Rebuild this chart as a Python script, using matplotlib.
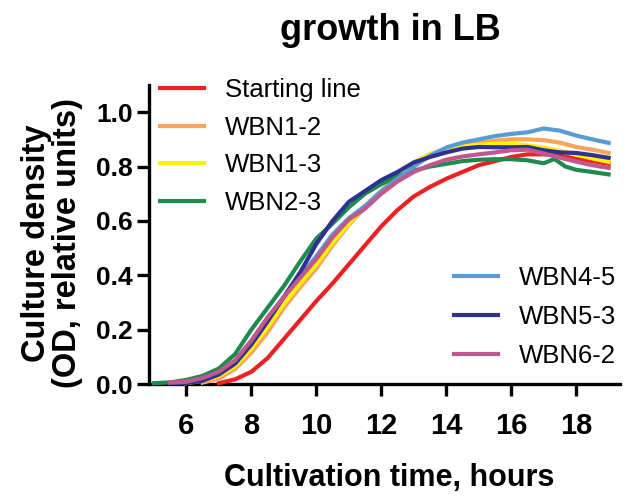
import numpy as np
import matplotlib
matplotlib.use("Agg")
import matplotlib.pyplot as plt

plt.rcParams['font.family'] = ['Liberation Sans', 'DejaVu Sans']

hours = [5.0, 5.5, 6.0, 6.5, 7.0, 7.5, 8.0, 8.5, 9.0, 9.5, 10.0, 10.5, 11.0, 11.5,
         12.0, 12.5, 13.0, 13.5, 14.0, 14.5, 15.0, 15.5, 16.0, 16.5, 17.0, 17.5,
         18.0, 18.5, 19.0]
nan = np.nan
starting_line = [nan, nan, nan, nan, 0.003, 0.017, 0.045, 0.095, 0.165, 0.235, 0.305,
                 0.37, 0.44, 0.51, 0.58, 0.64, 0.69, 0.725, 0.755, 0.78, 0.805, 0.82,
                 0.835, 0.845, 0.845, 0.84, 0.83, 0.82, 0.81]
wbn1_2 = [nan, nan, nan, 0.005, 0.02, 0.055, 0.115, 0.19, 0.28, 0.355, 0.425, 0.51,
          0.585, 0.65, 0.71, 0.77, 0.815, 0.845, 0.865, 0.876, 0.888, 0.895, 0.90,
          0.90, 0.897, 0.888, 0.872, 0.862, 0.85]
wbn1_3 = [nan, nan, 0.003, 0.012, 0.03, 0.065, 0.13, 0.21, 0.295, 0.37, 0.44, 0.52,
          0.59, 0.655, 0.71, 0.77, 0.815, 0.845, 0.865, 0.875, 0.88, 0.884, 0.884,
          0.878, 0.87, 0.858, 0.843, 0.83, 0.817]
hours_wbn2_3 = [5.0, 5.5, 6.0, 6.5, 7.0, 7.5, 8.0, 8.5, 9.0, 9.5, 10.0, 10.5, 11.0,
                11.5, 12.0, 12.5, 13.0, 13.5, 14.0, 14.5, 15.0, 15.5, 16.0, 16.5,
                17.0, 17.33, 17.67, 18.0, 18.5, 19.0]
wbn2_3 = [0.003, 0.006, 0.015, 0.03, 0.057, 0.11, 0.20, 0.28, 0.36, 0.45, 0.535, 0.59,
          0.65, 0.70, 0.735, 0.765, 0.785, 0.80, 0.81, 0.82, 0.825, 0.827, 0.827,
          0.823, 0.812, 0.828, 0.80, 0.788, 0.78, 0.771]
wbn4_5 = [nan, 0.005, 0.008, 0.02, 0.043, 0.085, 0.155, 0.24, 0.32, 0.395, 0.47, 0.55,
          0.61, 0.655, 0.71, 0.755, 0.80, 0.84, 0.87, 0.888, 0.90, 0.912, 0.92,
          0.926, 0.94, 0.932, 0.914, 0.90, 0.887]
wbn5_3 = [nan, 0.002, 0.003, 0.012, 0.035, 0.075, 0.145, 0.23, 0.32, 0.41, 0.515, 0.60,
          0.67, 0.71, 0.75, 0.78, 0.815, 0.835, 0.852, 0.866, 0.872, 0.871, 0.871,
          0.872, 0.86, 0.852, 0.85, 0.842, 0.832]
wbn6_2 = [nan, 0.005, 0.008, 0.022, 0.045, 0.087, 0.16, 0.245, 0.32, 0.39, 0.46, 0.54,
          0.605, 0.645, 0.70, 0.745, 0.78, 0.805, 0.825, 0.837, 0.845, 0.852, 0.86,
          0.862, 0.848, 0.833, 0.818, 0.805, 0.795]

labels = ['Starting line', 'WBN1-2', 'WBN1-3', 'WBN2-3', 'WBN4-5', 'WBN5-3', 'WBN6-2']
colors = ['#ED2024', '#F7A55A', '#FFF200', '#1E8B4E', '#5B9BD5', '#2E3192', '#C2568F']
x_ticks = [6, 8, 10, 12, 14, 16, 18]
y_ticks = [0.0, 0.2, 0.4, 0.6, 0.8, 1.0]

fig = plt.figure(figsize=(6.44, 4.98), dpi=100)
ax = fig.add_axes([149/644, 1-384/498, 471/644, 299/498])

series = [(hours, starting_line), (hours, wbn1_2), (hours, wbn1_3), (hours_wbn2_3, wbn2_3),
          (hours, wbn4_5), (hours, wbn5_3), (hours, wbn6_2)]
lines = []
for (xs, ys), lab, c in zip(series, labels, colors):
    ln, = ax.plot(xs, ys, color=c, lw=3, label=lab, clip_on=False, zorder=3,
                  solid_joinstyle='round')
    lines.append(ln)

ax.set_xlim(4.85, 19.35)
ax.set_ylim(0, 1.1)
ax.set_xticks(x_ticks)
ax.set_yticks(y_ticks)
ax.set_yticklabels([f'{v:.1f}' for v in y_ticks])
for s in ['top', 'right']:
    ax.spines[s].set_visible(False)
for s in ['left', 'bottom']:
    ax.spines[s].set_linewidth(2.4)
ax.tick_params(axis='both', direction='out', length=8.5, width=2.4)
ax.tick_params(axis='x', labelsize=21, pad=12)
ax.tick_params(axis='y', labelsize=19, pad=3)
for t in ax.get_xticklabels() + ax.get_yticklabels():
    t.set_fontweight('bold')

ax.set_xlabel('Cultivation time, hours', fontsize=22, fontweight='bold')
ax.xaxis.set_label_coords(0.511, -0.265)
ax.set_ylabel('Culture density\n(OD, relative units)', fontsize=23.5, fontweight='bold',
              linespacing=0.98)
ax.yaxis.set_label_coords(-0.141, 0.472)

fig.text(0.606, 1-40/498, 'growth in LB', fontsize=26, fontweight='bold',
         ha='center', va='baseline')

leg1 = ax.legend(lines[:4], labels[:4], loc='upper left', bbox_to_anchor=(0.0234, 1.023),
                 frameon=False, fontsize=18.5, handlelength=1.71, handletextpad=0.82,
                 labelspacing=0.525, borderpad=0, borderaxespad=0)
ax.add_artist(leg1)
leg2 = ax.legend(lines[4:], labels[4:], loc='upper left', bbox_to_anchor=(0.6476, 0.394),
                 frameon=False, fontsize=18.5, handlelength=1.71, handletextpad=0.82,
                 labelspacing=0.584, borderpad=0, borderaxespad=0)

fig.savefig('out.png', dpi=100)
